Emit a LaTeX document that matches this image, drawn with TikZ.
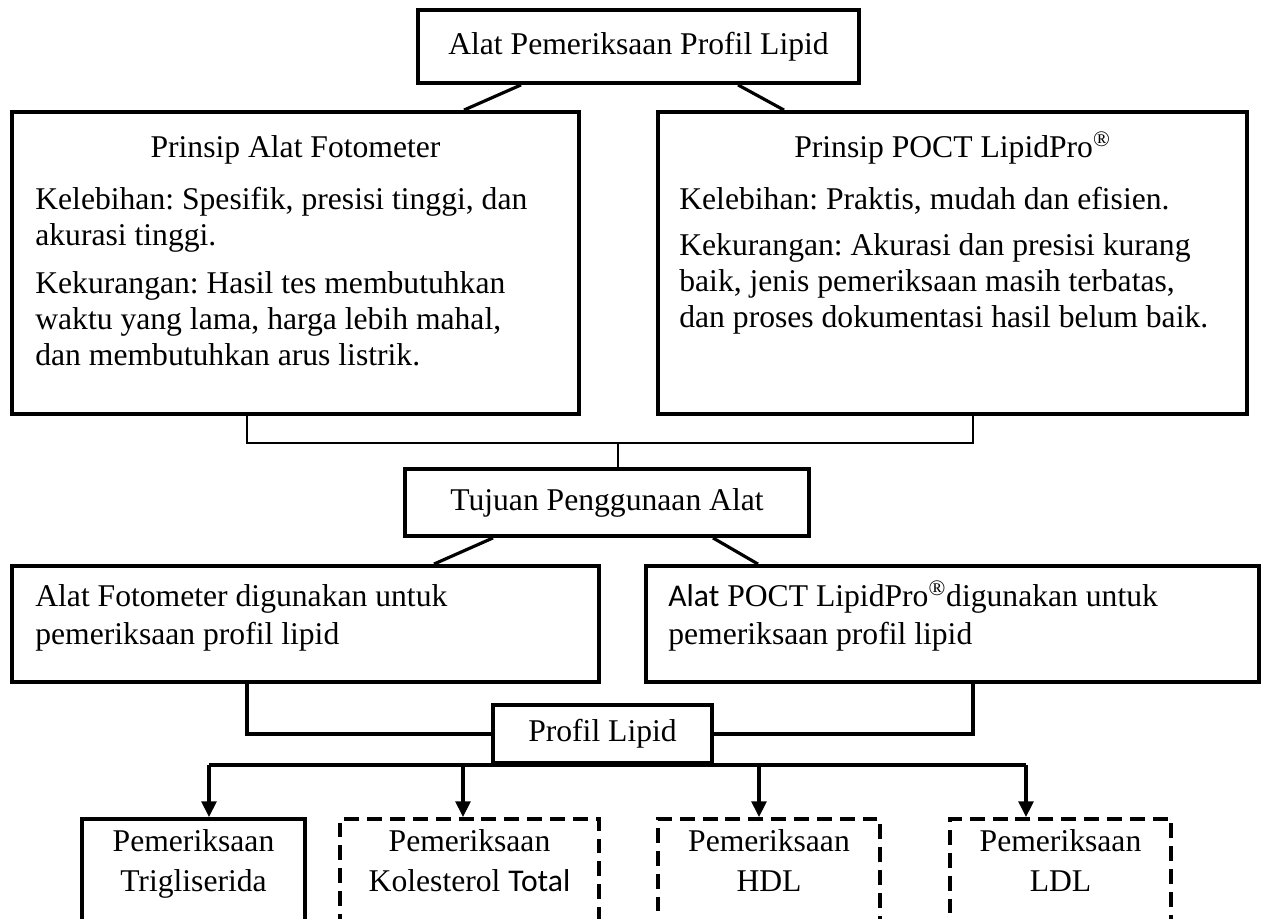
\documentclass[tikz,border=0pt]{standalone}
\usepackage{fontspec}
\setmainfont{Liberation Serif}
\newfontfamily\calibri{Carlito}
\usetikzlibrary{arrows.meta, calc}
\tikzset{
	box/.style={draw, line width=2.2pt, inner sep=0pt},
	dashbox/.style={box, dash pattern=on 8.5pt off 4.5pt},
	link/.style={line width=1.8pt},
	bracket/.style={line width=1.4pt},
	arrow/.style={line width=1.8pt, -{Triangle[length=9pt, width=8.5pt]}},
	txt/.style={anchor=base west, inner sep=0pt},
	ctxt/.style={anchor=base, inner sep=0pt},
}

\begin{document}
\frenchspacing
\begin{tikzpicture}[font=\fontsize{18}{20.7}\selectfont]
	\useasboundingbox (0,0) rectangle (25.24,18.36);
	\clip (0,0) rectangle (25.24,18.36);

	% puncak
	\node[box, minimum width=8.82cm, minimum height=1.46cm] (alat) at (12.77,17.43) {Alat Pemeriksaan Profil Lipid};

	% prinsip alat
	\node[box, minimum width=11.34cm, minimum height=6.04cm] (fotometer) at (5.91,13.10) {};
	\node[box, minimum width=11.78cm, minimum height=6.04cm] (poct) at (19.05,13.10) {};

	\node[ctxt] (fotoT) at (5.91,15.20) {Prinsip Alat Fotometer};
	\node[txt] (fotoA1) at (0.70,14.17) {Kelebihan: Spesifik, presisi tinggi, dan};
	\node[txt] (fotoA2) at (0.70,13.45) {akurasi tinggi.};
	\node[txt] (fotoB1) at (0.70,12.49) {Kekurangan: Hasil tes membutuhkan};
	\node[txt] (fotoB2) at (0.70,11.77) {waktu yang lama, harga lebih mahal,};
	\node[txt] (fotoB3) at (0.70,11.05) {dan membutuhkan arus listrik.};

	\node[ctxt] (poctT) at (19.05,15.20) {Prinsip POCT LipidPro\textsuperscript{\textregistered}};
	\node[txt] (poctA1) at (13.58,14.17) {Kelebihan: Praktis, mudah dan efisien.};
	\node[txt] (poctB1) at (13.58,13.24) {Kekurangan: Akurasi dan presisi kurang};
	\node[txt] (poctB2) at (13.58,12.52) {baik, jenis pemeriksaan masih terbatas,};
	\node[txt] (poctB3) at (13.58,11.80) {dan proses dokumentasi hasil belum baik.};

	\draw[link] ([xshift=-2.35cm]alat.south) -- ([xshift=3.37cm]fotometer.north);
	\draw[link] ([xshift=1.99cm]alat.south) -- ([xshift=-3.37cm]poct.north);

	% tujuan
	\node[box, minimum width=8.08cm, minimum height=1.34cm] (tujuan) at (12.14,8.31) {Tujuan Penggunaan Alat};

	\coordinate (join) at (12.36,9.5);
	\draw[bracket] ([xshift=-0.97cm]fotometer.south) |- (join) -| ([xshift=0.41cm]poct.south);
	\draw[bracket] (join) -- (join |- tujuan.north);

	\node[box, minimum width=11.74cm, minimum height=2.32cm] (gunaFoto) at (6.11,5.88) {};
	\node[box, minimum width=12.26cm, minimum height=2.32cm] (gunaPoct) at (19.05,5.88) {};

	\node[txt] (gunaFoto1) at (0.70,6.22) {Alat Fotometer digunakan untuk};
	\node[txt] (gunaFoto2) at (0.70,5.47) {pemeriksaan profil lipid};
	\node[txt] (gunaPoct1) at (13.36,6.22) {{\calibri Alat} POCT LipidPro\textsuperscript{\textregistered}digunakan untuk};
	\node[txt] (gunaPoct2) at (13.36,5.47) {pemeriksaan profil lipid};

	\draw[link] ([xshift=-2.28cm]tujuan.south) -- ([xshift=2.57cm]gunaFoto.north);
	\draw[link] ([xshift=2.12cm]tujuan.south) -- ([xshift=-3.89cm]gunaPoct.north);

	% profil lipid
	\node[box, minimum width=4.38cm, minimum height=1.16cm] (profil) at (12.05,3.68) {Profil Lipid};

	\draw[link] ([xshift=-1.17cm]gunaFoto.south) |- (profil.west);
	\draw[link] ([xshift=0.41cm]gunaPoct.south) |- (profil.east);

	\node[box, minimum width=4.46cm, minimum height=2.82cm] (trig) at (3.87,0.57) {};
	\node[dashbox, minimum width=5.18cm, minimum height=2.82cm] (kol) at (9.39,0.57) {};
	\node[dashbox, minimum width=4.44cm, minimum height=2.82cm] (hdl) at (15.38,0.57) {};
	\node[dashbox, minimum width=4.42cm, minimum height=2.82cm] (ldl) at (21.21,0.57) {};

	\node[ctxt] (trig1) at (3.87,1.34) {Pemeriksaan};
	\node[ctxt] (trig2) at (3.87,0.54) {Trigliserida};
	\node[ctxt] (kol1) at (9.39,1.34) {Pemeriksaan};
	\node[ctxt] (kol2) at (9.39,0.54) {Kolesterol {\calibri Total}};
	\node[ctxt] (hdl1) at (15.38,1.34) {Pemeriksaan};
	\node[ctxt] (hdl2) at (15.38,0.54) {HDL};
	\node[ctxt] (ldl1) at (21.21,1.34) {Pemeriksaan};
	\node[ctxt] (ldl2) at (21.21,0.54) {LDL};

	\draw[link] ([xshift=0.31cm]trig.north |- profil.south) -- ([xshift=-0.69cm]ldl.north |- profil.south);
	\draw[arrow] ([xshift=0.31cm]trig.north |- profil.south) -- ([xshift=0.31cm]trig.north);
	\draw[arrow] ([xshift=-0.13cm]kol.north |- profil.south) -- ([xshift=-0.13cm]kol.north);
	\draw[arrow] ([xshift=-0.2cm]hdl.north |- profil.south) -- ([xshift=-0.2cm]hdl.north);
	\draw[arrow] ([xshift=-0.69cm]ldl.north |- profil.south) -- ([xshift=-0.69cm]ldl.north);
\end{tikzpicture}
\end{document}
